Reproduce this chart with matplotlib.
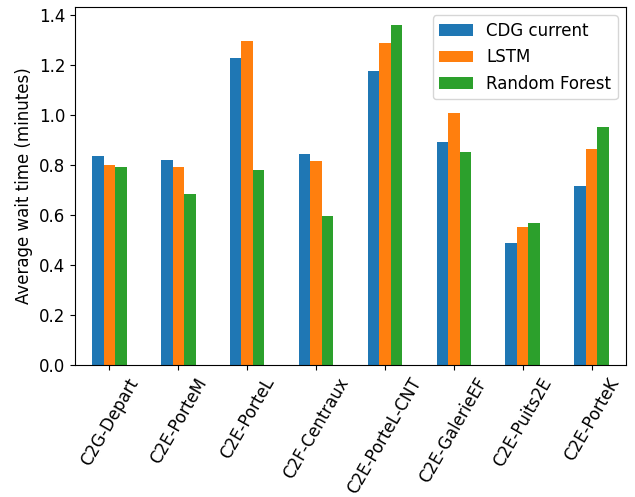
import numpy as np
import matplotlib
matplotlib.use('Agg')
import matplotlib.pyplot as plt
import pandas as pd

stations = ['C2G-Depart', 'C2E-PorteM', 'C2E-PorteL', 'C2F-Centraux',
            'C2E-PorteL-CNT', 'C2E-GalerieEF', 'C2E-Puits2E', 'C2E-PorteK']
cdg_current = [0.837, 0.819, 1.227, 0.843, 1.175, 0.892, 0.488, 0.716]
lstm = [0.800, 0.791, 1.297, 0.816, 1.288, 1.008, 0.553, 0.865]
random_forest = [0.792, 0.684, 0.780, 0.596, 1.361, 0.853, 0.567, 0.953]

plt.rcParams['font.size'] = 12

df = pd.DataFrame({'CDG current': cdg_current,
                   'LSTM': lstm,
                   'Random Forest': random_forest}, index=stations)

fig = plt.figure(figsize=(6.35, 4.97), dpi=100)
ax = fig.add_axes([75/635, 1 - 365/497, (626 - 75)/635, (365 - 7)/497])
df.plot(kind='bar', ax=ax, rot=60)
ax.set_ylabel('Average wait time (minutes)')
ax.set_ylim(0, 1.432)
ax.legend(loc='upper right')

fig.savefig('out.png', dpi=100)
